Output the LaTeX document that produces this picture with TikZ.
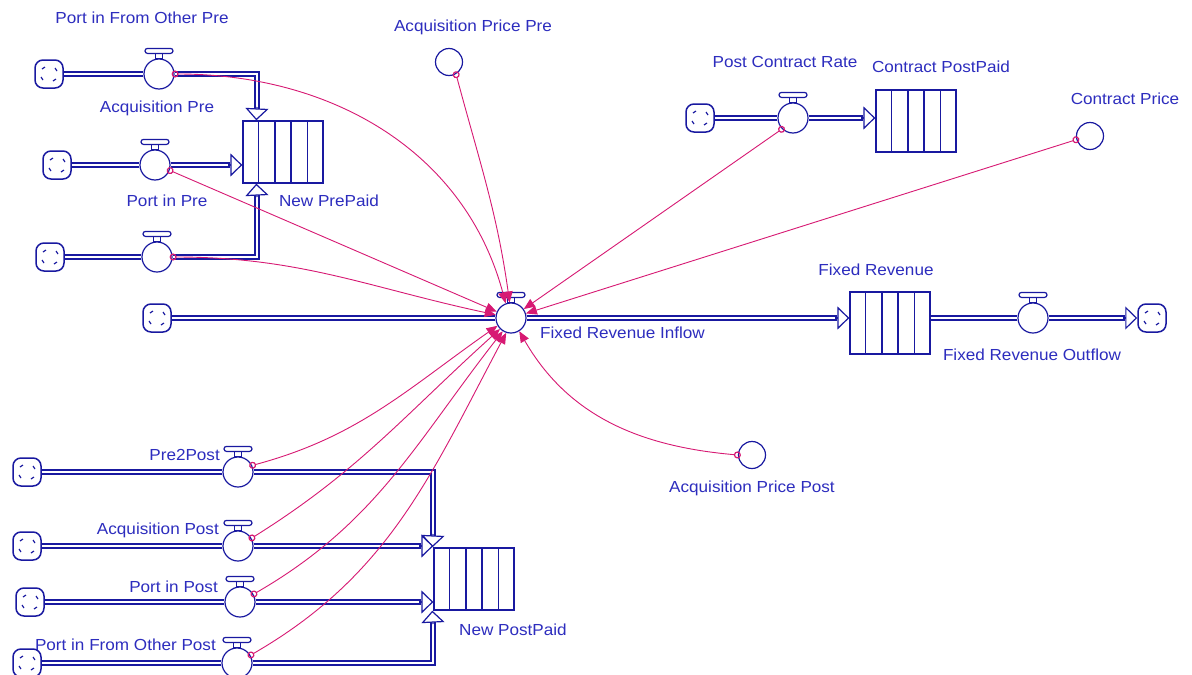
\documentclass[tikz,border=0pt]{standalone}
\usepackage{fontspec}
\setmainfont{Liberation Sans}[FakeStretch=1.07]
\usetikzlibrary{arrows.meta,calc}
\definecolor{sdblue}{RGB}{25,25,160}
\definecolor{sdtext}{RGB}{45,45,190}
\definecolor{sdpink}{RGB}{215,25,115}
\tikzset{
  pipe/.style={draw=sdblue, line width=1.5pt, double=white, double distance=2.4pt},
  pipetip/.style={draw=sdblue, line width=1.1pt, -{Triangle[length=12pt, width=23pt, fill=white, line width=1.2pt]}},
  valve/.style={circle, draw=sdblue, fill=white, line width=1.2pt, minimum size=30pt, inner sep=0pt},
  valvetop/.style={draw=sdblue, fill=white, line width=1.2pt},
  stockbox/.style={rectangle, draw=sdblue, fill=white, line width=1.3pt, minimum width=80pt, minimum height=62pt, inner sep=0pt},
  stockline/.style={draw=sdblue, line width=1.3pt},
  aux/.style={circle, draw=sdblue, fill=white, line width=1.2pt, minimum size=27pt, inner sep=0pt},
  cloud/.style={rectangle, rounded corners=8pt, draw=sdblue, fill=white, line width=1.5pt, minimum size=28pt, inner sep=0pt,
    path picture={
      \draw[sdblue, line width=1.2pt] ([shift={(-7pt,5pt)}]path picture bounding box.center) -- ++(3pt,2pt);
      \draw[sdblue, line width=1.2pt] ([shift={(6pt,6pt)}]path picture bounding box.center) -- ++(2pt,-3pt);
      \draw[sdblue, line width=1.2pt] ([shift={(-6pt,-6pt)}]path picture bounding box.center) -- ++(-2pt,3pt);
      \draw[sdblue, line width=1.2pt] ([shift={(4pt,-7pt)}]path picture bounding box.center) -- ++(3pt,2pt);
    }},
  info/.style={draw=sdpink, line width=0.9pt, shorten <=-3pt,
    {Circle[open, length=7pt, width=7pt, line width=1.2pt]}-{Triangle[length=11pt, width=9pt]}},
  lbl/.style={text=sdtext, font=\fontsize{16}{19}\selectfont, inner sep=0pt}
}
\newcommand\mkvalve[3]{%
  \node[valve] (#1) at (#2,#3) {};
  \draw[valvetop] ([xshift=-3.5pt]#1.north) rectangle ([xshift=3.5pt,yshift=5pt]#1.north);
  \draw[valvetop, rounded corners=2.5pt] ([xshift=-14pt,yshift=5pt]#1.north) rectangle ([xshift=14pt,yshift=10pt]#1.north);
}
\newcommand\mkstock[3]{%
  \node[stockbox] (#1) at (#2,#3) {};
  \foreach \i in {1,...,4}
    \draw[stockline] ($(#1.south west)!\i/5!(#1.south east)$) -- ($(#1.north west)!\i/5!(#1.north east)$);
}
\begin{document}
\begin{tikzpicture}[x=1pt, y=1pt]
\useasboundingbox (0,0) rectangle (1192,-675);
\fill[white] (0,0) rectangle (1192,-675);

% clouds
\node[cloud] (c1) at (49,-74) {};
\node[cloud] (c2) at (57,-165) {};
\node[cloud] (c3) at (50,-257) {};
\node[cloud] (c4) at (157,-318) {};
\node[cloud] (c5) at (700,-118) {};
\node[cloud] (c6) at (1152,-318) {};
\node[cloud] (c7) at (27,-472) {};
\node[cloud] (c8) at (27,-546) {};
\node[cloud] (c9) at (30,-602) {};
\node[cloud] (c10) at (27,-663) {};

% valves
\mkvalve{v1}{159}{-74}
\mkvalve{v2}{155}{-165}
\mkvalve{v3}{157}{-257}
\mkvalve{fri}{511}{-318}
\mkvalve{pcr}{793}{-118}
\mkvalve{fro}{1033}{-318}
\mkvalve{pp}{238}{-472}
\mkvalve{ap}{238}{-546}
\mkvalve{pip}{240}{-602}
\mkvalve{pfo}{237}{-663}

% stocks
\mkstock{np}{283}{-152}
\mkstock{cpp}{916}{-121}
\mkstock{fr}{890}{-323}
\mkstock{npp}{474}{-579}

% auxiliaries
\node[aux] (app) at (449,-62) {};
\node[aux] (cp) at (1090,-136) {};
\node[aux] (apo) at (752,-455) {};

% pipes: top-left group
\draw[pipe] (c1.east) -- (v1.west);
\draw[pipe] (v1.east) -- (257,-74) -- (257,-109);
\draw[pipetip] (257,-107) -- ($(np.north west)+(14,0)$);
\draw[pipe] (c2.east) -- (v2.west);
\draw[pipe] (v2.east) -- ($(np.west|-v2)+(-12,0)$);
\draw[pipetip] ($(np.west|-v2)+(-14,0)$) -- (np.west|-v2);
\draw[pipe] (c3.east) -- (v3.west);
\draw[pipe] (v3.east) -- (257,-257) -- (257,-195);
\draw[pipetip] (257,-197) -- ($(np.south west)+(14,0)$);

% main chain
\draw[pipe] (c4.east) -- (fri.west);
\draw[pipe] (fri.east) -- ($(fr.west|-fri)+(-12,0)$);
\draw[pipetip] ($(fr.west|-fri)+(-14,0)$) -- (fr.west|-fri);
\draw[pipe] (fr.east|-fro) -- (fro.west);
\draw[pipe] (fro.east) -- ($(c6.west)+(-12,0)$);
\draw[pipetip] ($(c6.west)+(-14,0)$) -- (c6.west);

% post contract
\draw[pipe] (c5.east) -- (pcr.west);
\draw[pipe] (pcr.east) -- ($(cpp.west|-pcr)+(-12,0)$);
\draw[pipetip] ($(cpp.west|-pcr)+(-14,0)$) -- (cpp.west|-pcr);

% bottom group
\draw[pipe] (c7.east) -- (pp.west);
\draw[pipe] (pp.east) -- (433,-472) -- (433,-536);
\draw[pipetip] (433,-534) -- ($(npp.north west)+(-1,0)$);
\draw[pipe] (c8.east) -- (ap.west);
\draw[pipe] (ap.east) -- ($(npp.west|-ap)+(-12,0)$);
\draw[pipetip] ($(npp.west|-ap)+(-14,0)$) -- (npp.west|-ap);
\draw[pipe] (c9.east) -- (pip.west);
\draw[pipe] (pip.east) -- ($(npp.west|-pip)+(-12,0)$);
\draw[pipetip] ($(npp.west|-pip)+(-14,0)$) -- (npp.west|-pip);
\draw[pipe] (c10.east) -- (pfo.west);
\draw[pipe] (pfo.east) -- (433,-663) -- (433,-622);
\draw[pipetip] (433,-624) -- ($(npp.south west)+(-1,0)$);

% information links
\draw[info] (v1.east) to[out=0, in=105] (fri.110);
\draw[info] (v2.-20) -- (fri.156);
\draw[info] (v3.east) to[out=0, in=168] (fri.168);
\draw[info] (app.-60) to[out=-75, in=98] (fri.95);
\draw[info] (pcr.225) -- (fri.35);
\draw[info] (cp.195) -- (fri.17);
\draw[info] (apo.west) to[out=175, in=-60] (fri.-58);
\draw[info] (pp.25) to[out=15, in=-145] (fri.-150);
\draw[info] (ap.30) to[out=32, in=-138] (fri.-135);
\draw[info] (pip.30) to[out=30, in=-128] (fri.-122);
\draw[info] (pfo.30) to[out=30, in=-118] (fri.-108);

% labels
\node[lbl] (t1) at (142,-18) {Port in From Other Pre};
\node[lbl] (t2) at (157,-108) {Acquisition Pre};
\node[lbl] (t3) at (167,-201) {Port in Pre};
\node[lbl] (t4) at (329,-201) {New PrePaid};
\node[lbl] (t5) at (473,-27) {Acquisition Price Pre};
\node[lbl] (t6) at (785,-62) {Post Contract Rate};
\node[lbl] (t7) at (941,-67) {Contract PostPaid};
\node[lbl] (t8) at (1125,-99) {Contract Price};
\node[lbl] (t9) at (876,-270) {Fixed Revenue};
\node[lbl, anchor=west] (t10) at (540,-333) {Fixed Revenue Inflow};
\node[lbl] (t11) at (1032,-355) {Fixed Revenue Outflow};
\node[lbl] (t12) at (752,-488) {Acquisition Price Post};
\node[lbl, anchor=east] (t13) at (220,-455) {Pre2Post};
\node[lbl, anchor=east] (t14) at (219,-530) {Acquisition Post};
\node[lbl, anchor=east] (t15) at (218,-587) {Port in Post};
\node[lbl, anchor=east] (t16) at (216,-645) {Port in From Other Post};
\node[lbl] (t17) at (513,-630) {New PostPaid};
\end{tikzpicture}
\end{document}
